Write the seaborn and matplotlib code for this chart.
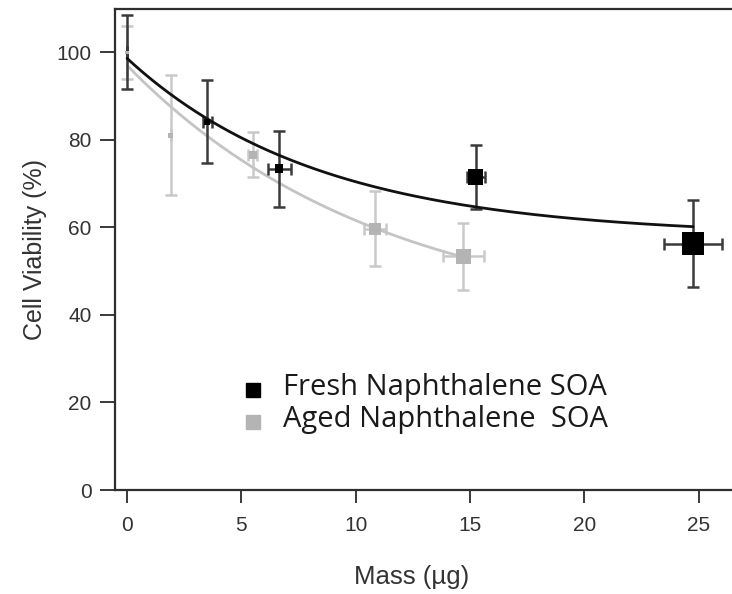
import numpy as np
import pandas as pd
import matplotlib
matplotlib.use("Agg")
import matplotlib.pyplot as plt
import seaborn as sns

# Measured cell viability vs. deposited SOA mass
fresh_mass = [0.0, 3.5, 6.65, 15.25, 24.75]
fresh_mass_err = [0.0, 0.2, 0.5, 0.4, 1.28]
fresh_viab = [100.0, 84.1, 73.4, 71.5, 56.3]
fresh_viab_err = [8.5, 9.5, 8.7, 7.3, 10.0]

aged_mass = [0.0, 1.9, 5.5, 10.84, 14.7]
aged_mass_err = [0.0, 0.0, 0.2, 0.5, 0.9]
aged_viab = [100.0, 81.0, 76.6, 59.7, 53.4]
aged_viab_err = [6.0, 13.7, 5.2, 8.5, 7.7]

# Exponential decay fits: y = A + B * exp(-k * mass)
fresh_fit = (58.0, 40.6, 0.1185)
aged_fit = (37.3, 59.7, 0.090)

labels = ["Fresh Naphthalene SOA", "Aged Naphthalene  SOA"]
x_ticks = [0, 5, 10, 15, 20, 25]
y_ticks = [0, 20, 40, 60, 80, 100]

sns.set_theme(style="white")
plt.rcParams["font.family"] = ["Liberation Sans", "DejaVu Sans"]

W, H = 732, 594
fig = plt.figure(figsize=(W / 100, H / 100), dpi=100)
ax_l, ax_r, ax_t, ax_b = 114.5, 740.0, 8.5, 490.0
ax = fig.add_axes([ax_l / W, 1 - ax_b / H, (ax_r - ax_l) / W, (ax_b - ax_t) / H])

dark = "#111111"
dark_err = "#3a3a3a"
grey = "#b4b4b4"
grey_err = "#c9c9c9"
grey_line = "#c4c4c4"

fresh = pd.DataFrame({"mass": fresh_mass, "viab": fresh_viab,
                      "xerr": fresh_mass_err, "yerr": fresh_viab_err, "series": labels[0]})
aged = pd.DataFrame({"mass": aged_mass, "viab": aged_viab,
                     "xerr": aged_mass_err, "yerr": aged_viab_err, "series": labels[1]})


def fit_curve(params, xmax):
    a, b, k = params
    xs = np.linspace(0, xmax, 200)
    return pd.DataFrame({"mass": xs, "viab": a + b * np.exp(-k * xs)})


# fitted curves
sns.lineplot(data=fit_curve(aged_fit, max(aged_mass)), x="mass", y="viab",
             color=grey_line, lw=2.0, ax=ax, zorder=2)
sns.lineplot(data=fit_curve(fresh_fit, max(fresh_mass)), x="mass", y="viab",
             color=dark, lw=2.0, ax=ax, zorder=4)

# error bars
for df, ec, z in [(aged, grey_err, 1), (fresh, dark_err, 3)]:
    ax.errorbar(df["mass"], df["viab"], yerr=df["yerr"], xerr=df["xerr"],
                fmt="none", ecolor=ec, elinewidth=1.8, capsize=4.2,
                capthick=1.8, zorder=z)


def marker_area(mass):
    # square marker edge grows with deposited mass (pixels -> points)
    px = 3.5 + 0.76 * np.asarray(mass)
    return (px * 0.72) ** 2


sns.scatterplot(data=fresh, x="mass", y="viab", marker="s", color="black",
                s=marker_area(fresh["mass"]), linewidth=0, ax=ax, zorder=5)
sns.scatterplot(data=aged, x="mass", y="viab", marker="s", color=grey,
                s=marker_area(aged["mass"]), linewidth=0, ax=ax, zorder=6)

# axes styling
ax.set_xlim(-0.55, 26.8)
ax.set_ylim(0, 110)
ax.set_xticks(x_ticks)
ax.set_yticks(y_ticks)
for side in ["left", "top", "bottom"]:
    ax.spines[side].set_visible(True)
    ax.spines[side].set_color("#2e2e2e")
    ax.spines[side].set_linewidth(1.6)
ax.spines["right"].set_visible(False)
ax.tick_params(axis="x", direction="out", length=9.5, width=1.4, color="#3a3a3a",
               pad=9, labelsize=15, labelcolor="#333333", bottom=True)
ax.tick_params(axis="y", direction="out", length=10.5, width=1.4, color="#3a3a3a",
               pad=6, labelsize=15, labelcolor="#333333", left=True)
ax.set_xlabel("Mass (µg)", fontsize=18.5, color="#333333")
ax.xaxis.set_label_coords((412 - ax_l) / (ax_r - ax_l), -0.155)
ax.set_ylabel("Cell Viability (%)", fontsize=18, color="#333333", labelpad=7)

# legend
leg_font = ["Open Sans", "DejaVu Sans"]
for i, (lab, col) in enumerate(zip(labels, ["black", grey])):
    ym = 0.2077 - i * 0.0665
    ax.plot([0.2214], [ym], marker="s", ms=10, color=col, lw=0,
            transform=ax.transAxes, clip_on=False)
    ax.text(0.2694, ym - 0.0105, lab, transform=ax.transAxes, fontsize=21,
            family=leg_font, color="#1a1a1a", va="baseline", ha="left")

fig.savefig("out.png", dpi=100)
